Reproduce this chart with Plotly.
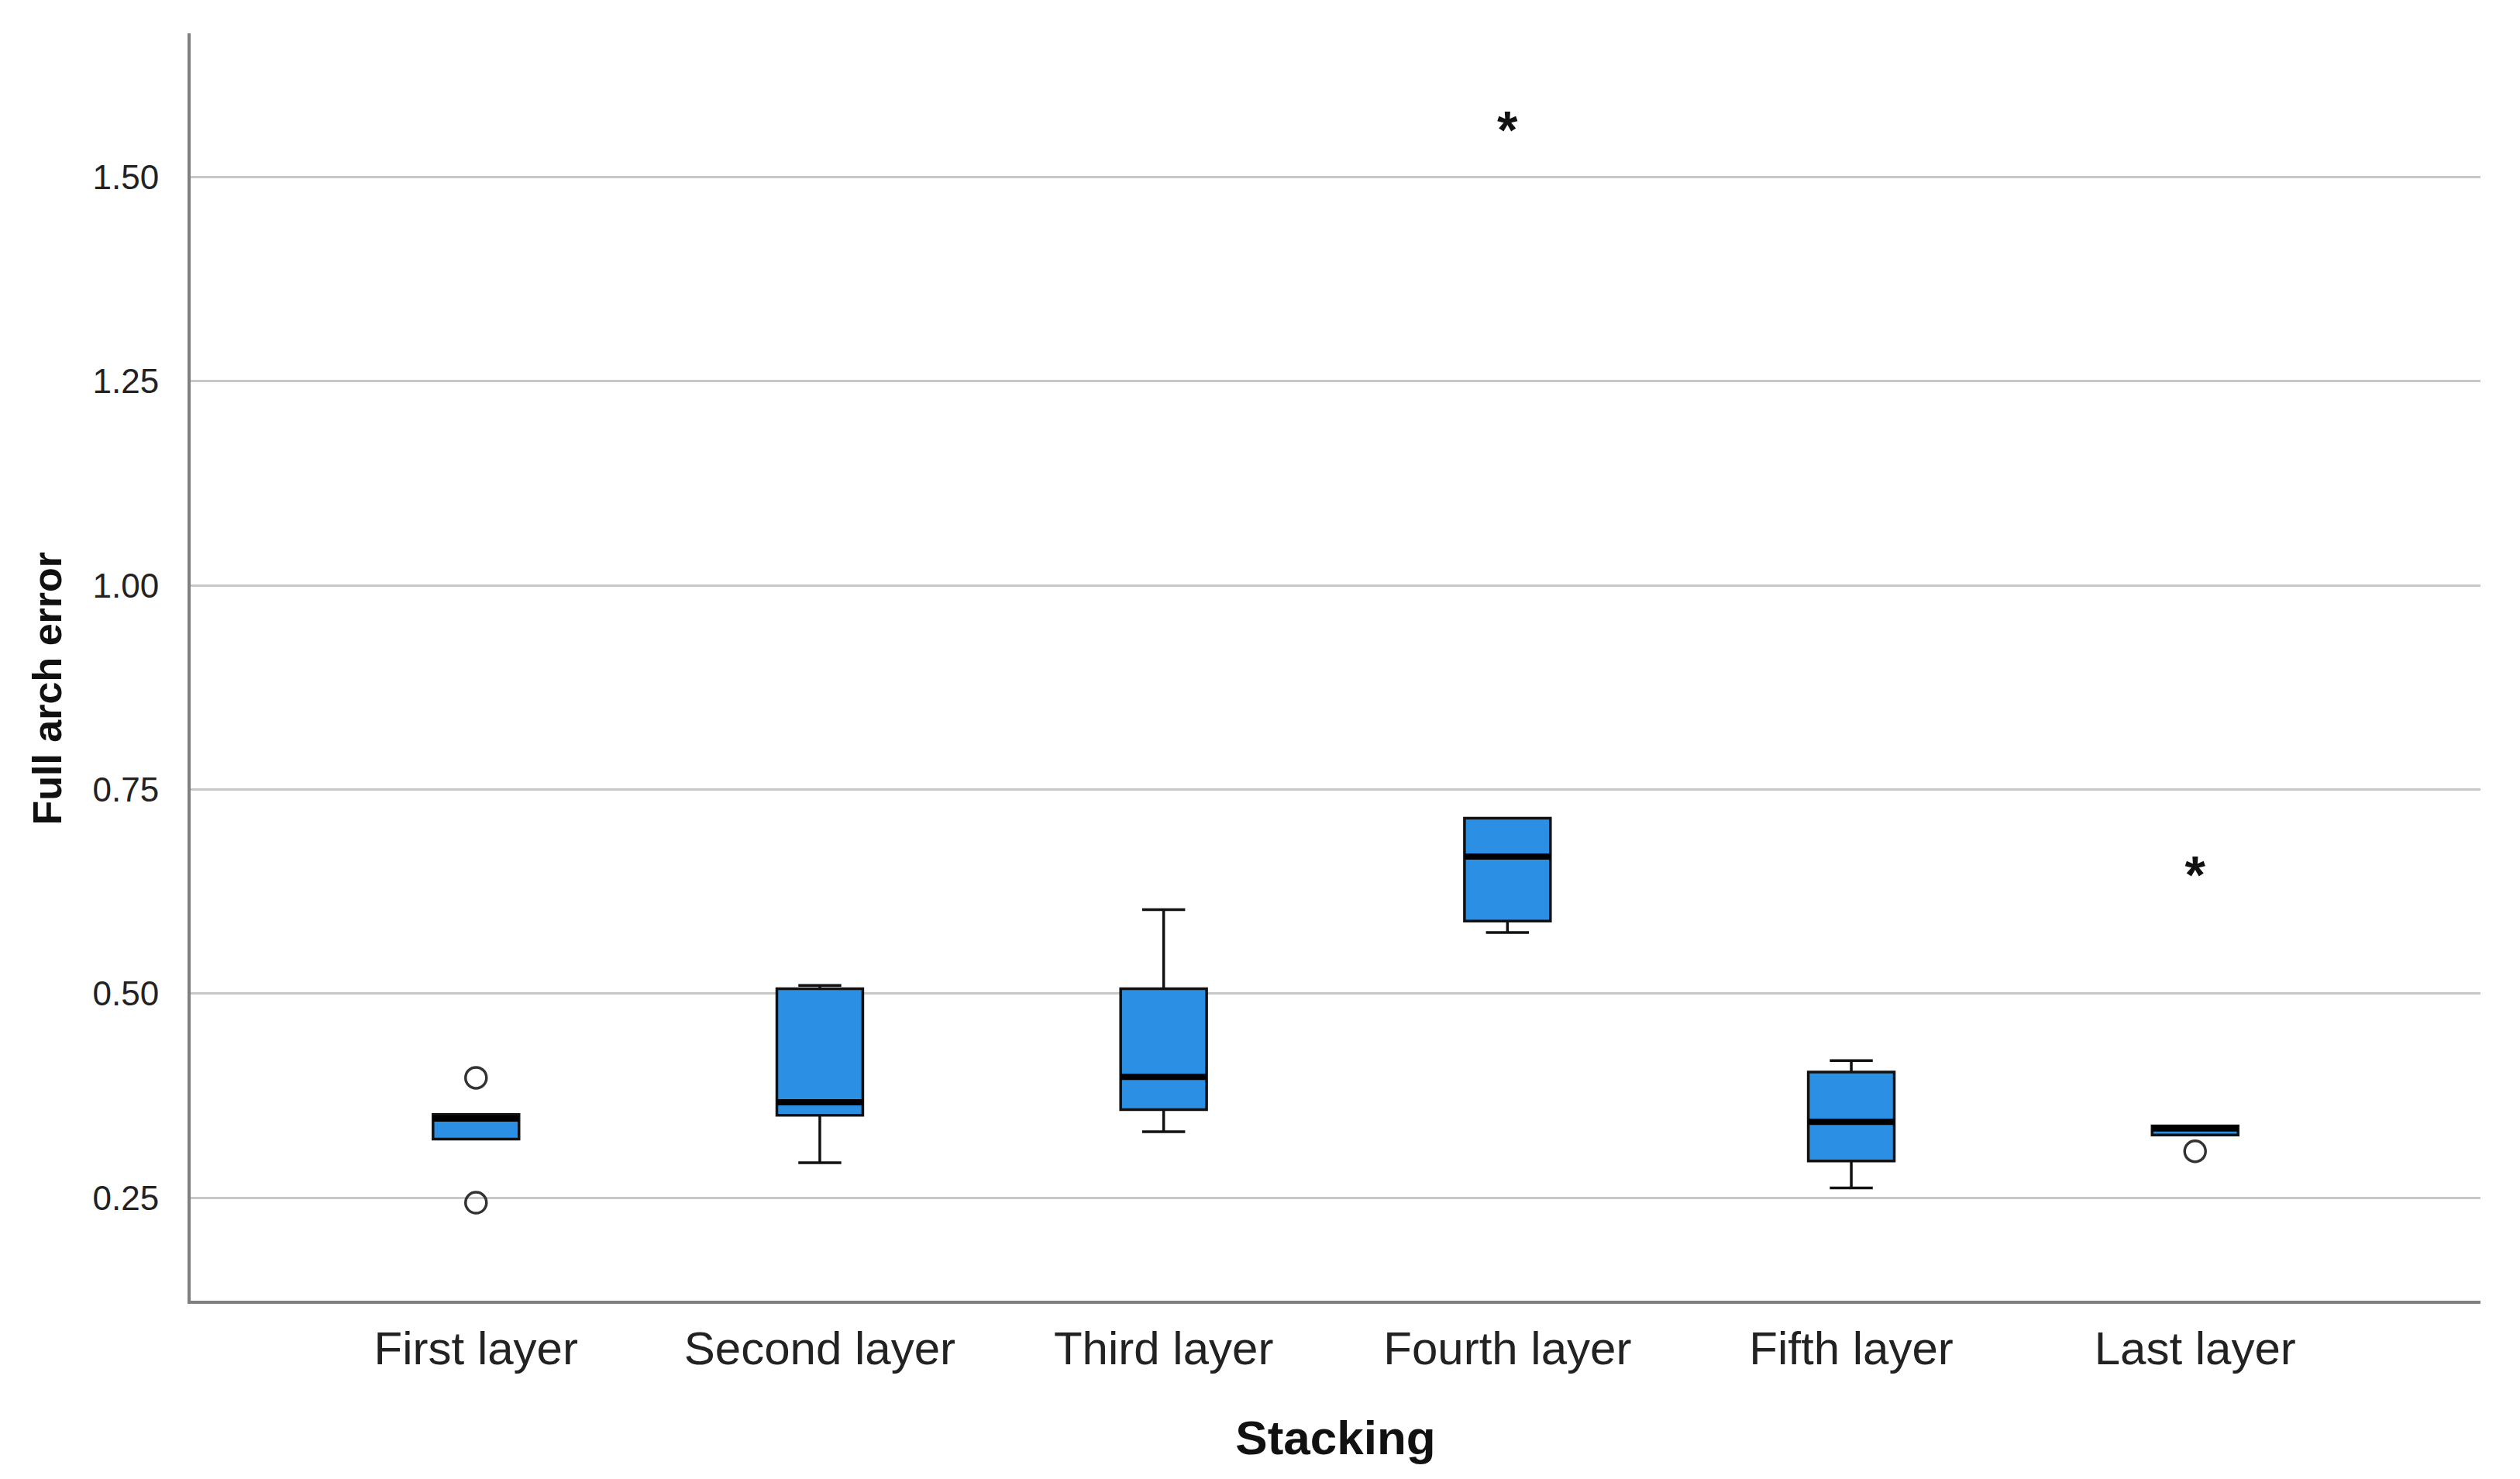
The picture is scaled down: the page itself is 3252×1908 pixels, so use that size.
import plotly.graph_objects as go

categories = ["First layer", "Second layer", "Third layer", "Fourth layer", "Fifth layer", "Last layer"]
q1 = [0.322, 0.351, 0.358, 0.589, 0.295, 0.327]
median = [0.347, 0.367, 0.398, 0.668, 0.343, 0.335]
q3 = [0.352, 0.506, 0.506, 0.715, 0.404, 0.338]
lowerfence = [0.322, 0.293, 0.331, 0.575, 0.262, 0.327]
upperfence = [0.352, 0.510, 0.603, 0.715, 0.418, 0.338]

circle_cats = ["First layer", "First layer", "Last layer"]
circle_vals = [0.397, 0.244, 0.307]
star_cats = ["Fourth layer", "Last layer"]
star_vals = [1.552, 0.639]

y_ticks = [0.25, 0.50, 0.75, 1.00, 1.25, 1.50]
y_ticktext = ["0.25", "0.50", "0.75", "1.00", "1.25", "1.50"]

BLUE = "#2B8FE3"
FONT = "Liberation Sans, Arial, sans-serif"

fig = go.Figure()
for i, c in enumerate(categories):
    fig.add_trace(go.Box(
        x=[c], q1=[q1[i]], median=[median[i]], q3=[q3[i]],
        lowerfence=[lowerfence[i]], upperfence=[upperfence[i]],
        width=0.25, whiskerwidth=0.5, boxpoints=False,
        fillcolor=BLUE, line=dict(color="#111111", width=3.5),
        showlegend=False, hoverinfo="skip"))
    # thick median bar
    fig.add_trace(go.Box(
        x=[c], q1=[median[i]], median=[median[i]], q3=[median[i]],
        lowerfence=[median[i]], upperfence=[median[i]],
        width=0.25, whiskerwidth=0.0, boxpoints=False,
        fillcolor="#000000", line=dict(color="#000000", width=8),
        showlegend=False, hoverinfo="skip"))

fig.add_trace(go.Scatter(
    x=circle_cats, y=circle_vals, mode="markers",
    marker=dict(symbol="circle-open", size=27, color="#333333", line=dict(width=3.5, color="#333333")),
    showlegend=False, hoverinfo="skip"))
fig.add_trace(go.Scatter(
    x=star_cats, y=star_vals, mode="text", text=["<b>*</b>"] * len(star_vals),
    textposition="middle center",
    textfont=dict(family=FONT, size=68, color="#111111"),
    showlegend=False, hoverinfo="skip"))

fig.update_layout(
    width=3252, height=1908,
    paper_bgcolor="white", plot_bgcolor="white",
    margin=dict(l=238, r=59, t=35, b=238),
    boxmode="overlay",
    font=dict(family=FONT, color="#111111"),
    xaxis=dict(
        type="category", categoryorder="array", categoryarray=categories,
        range=[-0.83, 5.83], showgrid=False, zeroline=False,
        showline=True, linecolor="#7F7F7F", linewidth=4,
        ticks="", tickfont=dict(family=FONT, size=60, color="#222222"),
        ticklabelstandoff=6,
        title=dict(text="<b>Stacking</b>", font=dict(family=FONT, size=62, color="#111111"), standoff=62),
    ),
    yaxis=dict(
        range=[0.124, 1.676], tickvals=y_ticks, ticktext=y_ticktext,
        showgrid=True, gridcolor="#C8C8C8", gridwidth=3, zeroline=False,
        showline=True, linecolor="#7F7F7F", linewidth=4,
        ticks="", tickfont=dict(family=FONT, size=44, color="#222222"),
        ticklabelstandoff=28,
    ),
    annotations=[dict(
        text="<b>Full arch error</b>", xref="paper", yref="paper",
        x=0, y=0.5, xanchor="center", yanchor="middle",
        xshift=-186, yshift=-28, textangle=-90, showarrow=False,
        font=dict(family=FONT, size=52, color="#111111"),
    )],
)

fig.write_html("out.html")
